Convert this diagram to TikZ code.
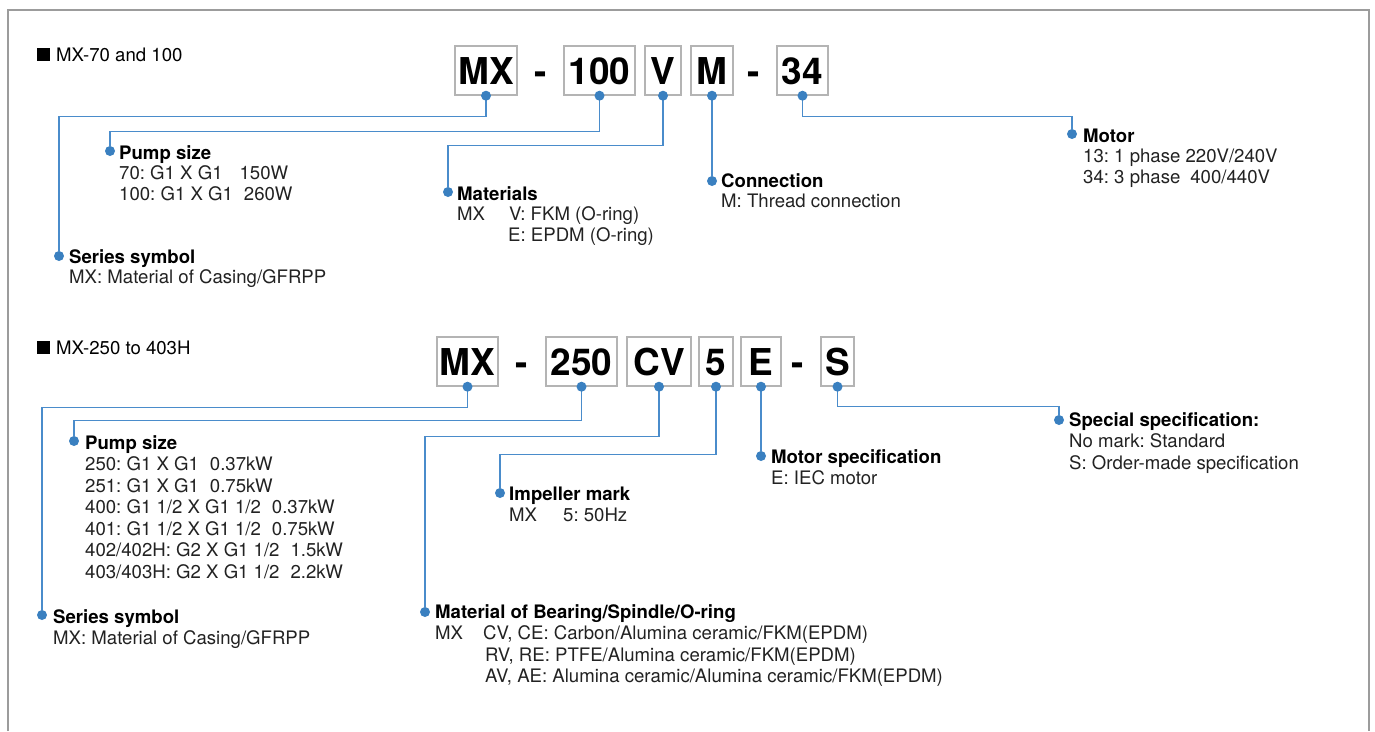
\documentclass[tikz,border=0pt]{standalone}
\usepackage{fontspec}
\setmainfont{TeX Gyre Heros}
\frenchspacing
\definecolor{leadblue}{HTML}{4A8CCB}
\definecolor{dotblue}{HTML}{3A80C0}
\definecolor{boxgray}{HTML}{B4B4B4}
\definecolor{framegray}{HTML}{9C9C9C}
\definecolor{txt}{HTML}{222222}

\begin{document}
\begin{tikzpicture}[x=1pt, y=-1pt,
    codebox/.style={draw=boxgray, line width=1.4pt, inner sep=0pt, minimum height=49pt,
        text height=27pt, text depth=0pt, font=\fontsize{37}{37}\selectfont\bfseries},
    hyphen/.style={anchor=base, inner sep=0pt, font=\fontsize{37}{37}\selectfont\bfseries},
    head/.style={anchor=base west, inner sep=0pt, font=\fontsize{18.6}{21}\selectfont},
    lblA/.style={anchor=base west, inner sep=0pt, text=txt, font=\fontsize{18.6}{20.5}\selectfont},
    lblB/.style={anchor=base west, inner sep=0pt, text=txt, font=\fontsize{18.6}{21.5}\selectfont},
    dot/.style={circle, fill=dotblue, inner sep=0pt, minimum size=10pt},
    lead/.style={draw=leadblue, line width=1.3pt}]
    \useasboundingbox (0,0) rectangle (1375,731);

    % Frame
    \draw[framegray, line width=2.5pt] (8,731) -- (8,10) -- (1369,10) -- (1369,731);

    % Headings
    \node[head] (headA) at (37,61) {\rule{13pt}{13pt}\hspace{6pt}MX-70 and 100};
    \node[head] (headB) at (37,354) {\rule{13pt}{13pt}\hspace{6pt}MX-250 to 403H};

    % Code, MX-70 and 100
    \node[codebox, minimum width=62pt] (mxA) at (486,70.5) {MX};
    \node[hyphen] (hyphenA1) at (541,84) {-};
    \node[codebox, minimum width=71pt] (hundA) at (599.5,70.5) {100};
    \node[codebox, minimum width=36pt] (vA) at (663,70.5) {V};
    \node[codebox, minimum width=42pt] (mA) at (712,70.5) {M};
    \node[hyphen] (hyphenA2) at (754,84) {-};
    \node[codebox, minimum width=51pt] (tfA) at (802.5,70.5) {34};

    % Code, MX-250 to 403H
    \node[codebox, minimum width=61pt] (mxB) at (467.5,361.5) {MX};
    \node[hyphen] (hyphenB1) at (522,375) {-};
    \node[codebox, minimum width=71pt] (twoB) at (581.5,361.5) {250};
    \node[codebox, minimum width=64pt] (cvB) at (659,361.5) {CV};
    \node[codebox, minimum width=34pt] (fiveB) at (716,361.5) {5};
    \node[codebox, minimum width=40pt] (eB) at (761,361.5) {E};
    \node[hyphen] (hyphenB2) at (797.5,375) {-};
    \node[codebox, minimum width=33pt] (sB) at (837.5,361.5) {S};

    % Labels, MX-70 and 100
    \node[dot] (pumpAdot) at (110,151) {};
    \node[lblA] (pumpA) at (119,159) {\begin{tabular}[t]{@{}l@{}}\textbf{\color{black}Pump size}\\
        70: G1 X G1\hspace{17pt}150W\\100: G1 X G1\hspace{11pt}260W\end{tabular}};
    \node[dot] (serAdot) at (59,256) {};
    \node[lblA] (serA) at (69,263) {\begin{tabular}[t]{@{}l@{}}\textbf{\color{black}Series symbol}\\
        MX: Material of Casing/GFRPP\end{tabular}};
    \node[dot] (matAdot) at (448,192) {};
    \node[lblA] (matA) at (457,200) {\begin{tabular}[t]{@{}l@{}}\textbf{\color{black}Materials}\\
        \makebox[52pt][l]{MX}V: FKM (O-ring)\\\hspace*{51pt}E: EPDM (O-ring)\end{tabular}};
    \node[dot] (conAdot) at (712,181) {};
    \node[lblA] (conA) at (721,187) {\begin{tabular}[t]{@{}l@{}}\textbf{\color{black}Connection}\\
        M: Thread connection\end{tabular}};
    \node[dot] (motAdot) at (1072,134) {};
    \node[lblA] (motA) at (1083,142) {\begin{tabular}[t]{@{}l@{}}\textbf{\color{black}Motor}\\
        13: 1 phase 220V/240V\\34: 3 phase\hspace{10pt}400/440V\end{tabular}};

    % Labels, MX-250 to 403H
    \node[dot] (pumpBdot) at (74,441) {};
    \node[lblB] (pumpB) at (85,449) {\begin{tabular}[t]{@{}l@{}}\textbf{\color{black}Pump size}\\
        250: G1 X G1\hspace{11pt}0.37kW\\251: G1 X G1\hspace{11pt}0.75kW\\
        400: G1 1/2 X G1 1/2\hspace{11pt}0.37kW\\401: G1 1/2 X G1 1/2\hspace{11pt}0.75kW\\
        402/402H: G2 X G1 1/2\hspace{11pt}1.5kW\\403/403H: G2 X G1 1/2\hspace{11pt}2.2kW\end{tabular}};
    \node[dot] (serBdot) at (42,615) {};
    \node[lblB] (serB) at (53,623) {\begin{tabular}[t]{@{}l@{}}\textbf{\color{black}Series symbol}\\
        MX: Material of Casing/GFRPP\end{tabular}};
    \node[dot] (bearBdot) at (425,612) {};
    \node[lblB] (bearB) at (435,618) {\begin{tabular}[t]{@{}l@{}}\textbf{\color{black}Material of Bearing/Spindle/O-ring}\\
        \makebox[48pt][l]{MX}CV, CE: Carbon/Alumina ceramic/FKM(EPDM)\\
        \hspace*{50pt}RV, RE: PTFE/Alumina ceramic/FKM(EPDM)\\
        \hspace*{50pt}AV, AE: Alumina ceramic/Alumina ceramic/FKM(EPDM)\end{tabular}};
    \node[dot] (impBdot) at (500,493) {};
    \node[lblB] (impB) at (509,500) {\begin{tabular}[t]{@{}l@{}}\textbf{\color{black}Impeller mark}\\
        \makebox[54pt][l]{MX}5: 50Hz\end{tabular}};
    \node[dot] (motBdot) at (761,456) {};
    \node[lblB] (motB) at (771,463) {\begin{tabular}[t]{@{}l@{}}\textbf{\color{black}Motor specification}\\
        E: IEC motor\end{tabular}};
    \node[dot] (specBdot) at (1059,420) {};
    \node[lblB] (specB) at (1069,426) {\begin{tabular}[t]{@{}l@{}}\textbf{\color{black}Special specification:}\\
        No mark: Standard\\S: Order-made specification\end{tabular}};

    % Leaders
    \draw[lead] (mxA.south) -- ++(0,21) -| (serAdot);
    \draw[lead] (hundA.south) -- ++(0,36) -| (pumpAdot);
    \draw[lead] (vA.south) -- ++(0,50) -| (matAdot);
    \draw[lead] (mA.south) -- (conAdot);
    \draw[lead] (tfA.south) -- ++(0,21) -| (motAdot);

    \draw[lead] (mxB.south) -- ++(0,21) -| (serBdot);
    \draw[lead] (twoB.south) -- ++(0,34) -| (pumpBdot);
    \draw[lead] (cvB.south) -- ++(0,50) -| (bearBdot);
    \draw[lead] (fiveB.south) -- ++(0,68) -| (impBdot);
    \draw[lead] (eB.south) -- (motBdot);
    \draw[lead] (sB.south) -- ++(0,20) -| (specBdot);

    % Dots on the code boxes
    \foreach \b in {mxA,hundA,vA,mA,tfA,mxB,twoB,cvB,fiveB,eB,sB}
        \node[dot] (\b dot) at (\b.south) {};
\end{tikzpicture}
\end{document}
